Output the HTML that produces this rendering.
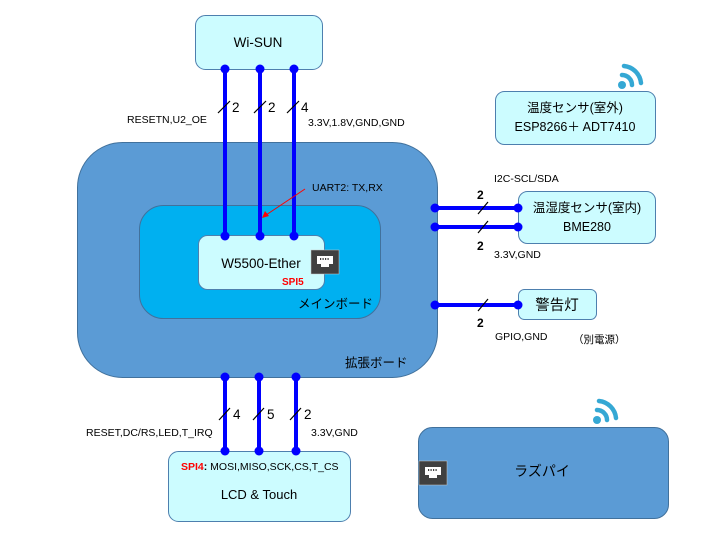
<!DOCTYPE html>
<html><head><meta charset="utf-8"><style>
html,body{margin:0;padding:0;background:#fff;width:712px;height:534px;overflow:hidden}
svg text{font-family:"Liberation Sans","Noto Sans CJK JP",sans-serif;fill:#000}
</style></head><body>
<svg width="712" height="534" viewBox="0 0 712 534" xmlns="http://www.w3.org/2000/svg">
<defs>
<g id="eth"><rect x="0" y="0" width="28" height="24" fill="#404040" stroke="#ccc" stroke-width="0.5"/><path d="M6 6 H22 V14 H18 V17 H10 V14 H6 Z" fill="#fff"/><g fill="#404040"><rect x="9" y="8" width="1.2" height="2"/><rect x="11.5" y="8" width="1.2" height="2"/><rect x="14" y="8" width="1.2" height="2"/><rect x="16.5" y="8" width="1.2" height="2"/></g></g>
<g id="wifi"><circle cx="4" cy="22" r="4" fill="#35a8d4"/><path d="M4 12 A10 10 0 0 1 14 22" stroke="#35a8d4" stroke-width="4.5" fill="none" stroke-linecap="round"/><path d="M6 3 A19 19 0 0 1 23 20" stroke="#35a8d4" stroke-width="4.5" fill="none" stroke-linecap="round"/></g>
</defs>
<rect x="195.5" y="15.5" width="127" height="54" rx="10" fill="#ccfcff" stroke="#4d7fae"/>
<text x="258" y="47" font-size="13.5" text-anchor="middle">Wi-SUN</text>
<rect x="77.5" y="142.5" width="360" height="235" rx="45" fill="#5b9bd5" stroke="#41719c"/>
<rect x="139.5" y="205.5" width="241" height="113" rx="24" fill="#00b0f0" stroke="#41719c"/>
<rect x="198.5" y="235.5" width="126" height="54" rx="9" fill="#ccfcff" stroke="#4d7fae"/>
<text x="261" y="268" font-size="13.5" text-anchor="middle">W5500-Ether</text>
<text x="282" y="285" font-size="10" style="fill:#f00;font-weight:bold">SPI5</text>
<use href="#eth" x="311" y="250"/>
<text x="298" y="308" font-size="12.5">メインボード</text>
<text x="345" y="367" font-size="12.5">拡張ボード</text>
<g stroke="#0000ff" stroke-width="4"><line x1="225" y1="69" x2="225" y2="236"/><line x1="260" y1="69" x2="260" y2="236"/><line x1="294" y1="69" x2="294" y2="236"/></g>
<g fill="#0000ff"><circle cx="225" cy="69" r="4.5"/><circle cx="260" cy="69" r="4.5"/><circle cx="294" cy="69" r="4.5"/><circle cx="225" cy="236" r="4.5"/><circle cx="260" cy="236" r="4.5"/><circle cx="294" cy="236" r="4.5"/></g>
<g stroke="#000" stroke-width="1.2"><line x1="218" y1="113" x2="230" y2="101"/><line x1="254" y1="113" x2="266" y2="101"/><line x1="287" y1="113" x2="299" y2="101"/></g>
<g font-size="13.5"><text x="232" y="112">2</text><text x="268" y="112">2</text><text x="301" y="112">4</text></g>
<text x="127" y="123" font-size="10.5">RESETN,U2_OE</text>
<text x="308" y="126" font-size="10.5">3.3V,1.8V,GND,GND</text>
<text x="312" y="191" font-size="10.5">UART2: TX,RX</text>
<line x1="305" y1="189" x2="266" y2="215" stroke="#f00" stroke-width="1"/>
<path d="M262 218 L265 211 L269 216 Z" fill="#f00"/>
<use href="#wifi" x="618" y="63"/>
<rect x="495.5" y="91.5" width="160" height="53" rx="9" fill="#ccfcff" stroke="#4d7fae"/>
<text x="575" y="112" font-size="12.5" text-anchor="middle">温度センサ(室外)</text>
<text x="575" y="131" font-size="12.5" text-anchor="middle">ESP8266＋ ADT7410</text>
<rect x="518.5" y="191.5" width="137" height="52" rx="9" fill="#ccfcff" stroke="#4d7fae"/>
<text x="587" y="212" font-size="12.5" text-anchor="middle">温湿度センサ(室内)</text>
<text x="587" y="231" font-size="12.5" text-anchor="middle">BME280</text>
<rect x="518.5" y="289.5" width="78" height="30" rx="6" fill="#ccfcff" stroke="#4d7fae"/>
<text x="557" y="310" font-size="14.5" text-anchor="middle">警告灯</text>
<g stroke="#0000ff" stroke-width="4"><line x1="435" y1="208" x2="518" y2="208"/><line x1="435" y1="227" x2="518" y2="227"/><line x1="435" y1="305" x2="518" y2="305"/></g>
<g fill="#0000ff"><circle cx="435" cy="208" r="4.5"/><circle cx="518" cy="208" r="4.5"/><circle cx="435" cy="227" r="4.5"/><circle cx="518" cy="227" r="4.5"/><circle cx="435" cy="305" r="4.5"/><circle cx="518" cy="305" r="4.5"/></g>
<g stroke="#000" stroke-width="1.2"><line x1="478" y1="214" x2="488" y2="202"/><line x1="478" y1="233" x2="488" y2="221"/><line x1="478" y1="311" x2="488" y2="299"/></g>
<g font-size="12" font-weight="bold"><text x="477" y="199">2</text><text x="477" y="250">2</text><text x="477" y="327">2</text></g>
<g font-size="10.5"><text x="494" y="182">I2C-SCL/SDA</text><text x="494" y="258">3.3V,GND</text><text x="495" y="340">GPIO,GND</text><text x="573" y="343">（別電源）</text></g>
<g stroke="#0000ff" stroke-width="4"><line x1="225" y1="377" x2="225" y2="454"/><line x1="259" y1="377" x2="259" y2="454"/><line x1="296" y1="377" x2="296" y2="454"/></g>
<g fill="#0000ff"><circle cx="225" cy="377" r="4.5"/><circle cx="259" cy="377" r="4.5"/><circle cx="296" cy="377" r="4.5"/></g>
<rect x="168.5" y="451.5" width="182" height="70" rx="10" fill="#ccfcff" stroke="#4d7fae"/>
<g fill="#0000ff"><circle cx="225" cy="451" r="4.5"/><circle cx="259" cy="451" r="4.5"/><circle cx="296" cy="451" r="4.5"/></g>
<g stroke="#000" stroke-width="1.2"><line x1="219" y1="420" x2="230" y2="408"/><line x1="253" y1="420" x2="264" y2="408"/><line x1="290" y1="420" x2="301" y2="408"/></g>
<g font-size="13.5"><text x="233" y="419">4</text><text x="267" y="419">5</text><text x="304" y="419">2</text></g>
<text x="86" y="436" font-size="10.5">RESET,DC/RS,LED,T_IRQ</text>
<text x="311" y="436" font-size="10.5">3.3V,GND</text>
<text x="181" y="470" font-size="10.5"><tspan style="fill:#f00;font-weight:bold">SPI4</tspan><tspan font-weight="bold">:</tspan> MOSI,MISO,SCK,CS,T_CS</text>
<text x="259" y="499" font-size="13" text-anchor="middle">LCD &amp; Touch</text>
<use href="#wifi" x="593" y="398"/>
<rect x="418.5" y="427.5" width="250" height="91" rx="14" fill="#5b9bd5" stroke="#41719c"/>
<use href="#eth" x="419" y="461"/>
<text x="542" y="476" font-size="14" text-anchor="middle">ラズパイ</text>
</svg>
</body></html>
